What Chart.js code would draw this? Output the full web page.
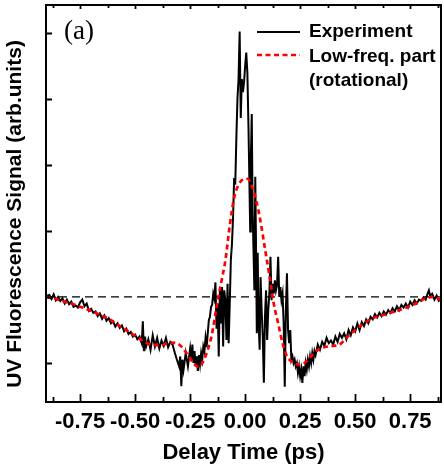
<!DOCTYPE html>
<html>
<head>
<meta charset="utf-8">
<style>
  html, body { margin: 0; padding: 0; background: #ffffff; }
  #wrap { width: 444px; height: 467px; }
</style>
<script src="https://cdn.jsdelivr.net/npm/chart.js@4/dist/chart.umd.min.js"></script>
</head>
<body>
<div id="wrap"><canvas id="c" width="444" height="467"></canvas></div>
<script>
// ---------- data ----------
const expTime = [
  -0.90,-0.89,-0.88,-0.87,-0.86,-0.85,-0.84,-0.83,-0.82,-0.81,
  -0.80,-0.79,-0.78,-0.77,-0.76,-0.75,-0.74,-0.73,-0.72,-0.71,
  -0.70,-0.69,-0.68,-0.67,-0.66,-0.65,-0.64,-0.63,-0.62,-0.61,
  -0.60,-0.59,-0.58,-0.57,-0.56,-0.55,-0.54,-0.53,-0.52,-0.51,
  -0.50,-0.49,-0.48,-0.47,-0.465,-0.46,-0.455,-0.45,-0.44,-0.43,
  -0.42,-0.41,-0.40,-0.39,-0.38,-0.37,-0.36,-0.35,-0.34,-0.33,
  -0.32,-0.31,-0.30,-0.295,-0.29,-0.285,-0.28,-0.27,-0.26,-0.25,
  -0.245,-0.24,-0.235,-0.23,-0.225,-0.22,-0.215,-0.21,-0.205,-0.20,
  -0.195,-0.19,-0.185,-0.18,-0.175,-0.17,-0.165,-0.16,-0.155,-0.15,
  -0.145,-0.14,-0.135,-0.13,-0.125,-0.12,-0.115,-0.11,-0.105,-0.10,
  -0.095,-0.09,-0.085,-0.08,-0.075,-0.07,-0.065,-0.06,-0.055,-0.05,
  -0.045,-0.04,-0.035,-0.03,-0.025,-0.02,-0.015,-0.01,-0.005,0.00,
  0.005,0.01,0.015,0.02,0.023,0.026,0.03,0.034,0.038,0.042,
  0.046,0.05,0.053,0.057,0.061,0.066,0.07,0.075,0.08,0.085,
  0.09,0.095,0.10,0.105,0.11,0.115,0.12,0.125,0.13,0.135,
  0.14,0.145,0.15,0.155,0.16,0.165,0.17,0.175,0.18,0.185,
  0.19,0.195,0.20,0.205,0.21,0.215,0.22,0.225,0.23,0.235,
  0.24,0.245,0.25,0.255,0.26,0.265,0.27,0.275,0.28,0.285,
  0.29,0.295,0.30,0.305,0.31,0.315,0.32,0.33,0.34,0.35,
  0.36,0.37,0.38,0.39,0.40,0.41,0.42,0.43,0.44,0.45,
  0.46,0.47,0.48,0.49,0.50,0.51,0.52,0.53,0.54,0.55,
  0.56,0.57,0.58,0.59,0.60,0.61,0.62,0.63,0.64,0.65,
  0.66,0.67,0.68,0.69,0.70,0.71,0.72,0.73,0.74,0.75,
  0.76,0.77,0.78,0.79,0.80,0.81,0.82,0.83,0.835,0.84,
  0.85,0.86,0.87,0.88,0.89
];
const expSignal = [
  0.02,0.03,-0.03,0.04,-0.05,0.00,-0.06,-0.02,-0.10,-0.04,
  -0.11,-0.07,-0.15,-0.13,-0.16,-0.08,-0.04,-0.14,-0.10,-0.21,
  -0.18,-0.24,-0.22,-0.29,-0.25,-0.33,-0.28,-0.36,-0.32,-0.40,
  -0.37,-0.45,-0.40,-0.47,-0.43,-0.52,-0.48,-0.56,-0.53,-0.60,
  -0.57,-0.64,-0.60,-0.70,-0.37,-0.82,-0.60,-0.75,-0.64,-0.80,
  -0.58,-0.75,-0.62,-0.78,-0.66,-0.74,-0.62,-0.76,-0.68,-0.72,
  -0.84,-0.95,-1.05,-0.90,-1.35,-0.95,-1.10,-0.85,-1.05,-0.78,
  -0.95,-0.72,-1.00,-0.82,-1.05,-0.90,-1.12,-0.88,-1.02,-0.85,
  -0.95,-0.75,-0.82,-0.62,-0.76,-0.55,-0.35,-0.30,-0.15,-0.12,
  0.05,-0.02,0.22,-0.48,-0.10,-0.90,0.10,-0.40,0.15,-0.75,
  0.10,-0.05,-0.65,0.20,-0.70,-0.10,0.56,0.80,1.20,1.80,
  1.70,2.40,3.00,3.30,4.02,2.71,3.30,3.10,3.25,3.50,
  3.70,3.40,2.60,1.60,0.99,2.10,2.77,1.30,0.70,0.10,
  1.82,0.60,-0.55,0.67,-0.40,-0.80,0.30,-0.20,-0.60,-1.30,
  -0.30,0.10,-0.65,-0.20,0.05,0.61,-0.05,0.20,0.05,0.25,
  0.10,0.18,0.61,0.00,0.15,-0.05,0.05,-0.40,-1.36,-0.20,
  0.36,-0.50,-0.70,-0.50,-0.95,-0.90,-1.00,-0.95,-1.05,-1.00,
  -1.15,-1.05,-1.20,-1.10,-1.30,-1.05,-1.20,-1.00,-1.10,-0.95,
  -1.05,-0.90,-1.00,-0.85,-0.95,-0.82,-0.88,-0.72,-0.80,-0.68,
  -0.74,-0.62,-0.70,-0.66,-0.72,-0.60,-0.68,-0.56,-0.62,-0.55,
  -0.64,-0.50,-0.58,-0.46,-0.52,-0.40,-0.50,-0.38,-0.44,-0.34,
  -0.40,-0.30,-0.34,-0.26,-0.31,-0.24,-0.29,-0.22,-0.27,-0.20,
  -0.24,-0.17,-0.22,-0.14,-0.20,-0.12,-0.16,-0.10,-0.16,-0.07,
  -0.12,-0.05,-0.10,-0.04,-0.06,-0.01,-0.04,0.06,0.10,0.02,
  0.05,-0.04,0.02,-0.06,-0.03
];
const fitTime = [
  -0.905,-0.86,-0.82,-0.78,-0.74,-0.70,-0.66,-0.62,-0.58,-0.54,
  -0.50,-0.46,-0.42,-0.38,-0.34,-0.30,-0.26,-0.23,-0.21,-0.19,
  -0.17,-0.15,-0.13,-0.11,-0.09,-0.07,-0.05,-0.03,-0.01,0.01,
  0.03,0.05,0.07,0.09,0.11,0.13,0.15,0.17,0.19,0.21,
  0.23,0.25,0.27,0.29,0.31,0.33,0.36,0.40,0.43,0.46,
  0.50,0.54,0.58,0.62,0.66,0.70,0.74,0.78,0.82,0.86,0.89
];
const fitSignal = [
  0.00,-0.03,-0.07,-0.11,-0.16,-0.21,-0.27,-0.33,-0.42,-0.50,
  -0.59,-0.67,-0.73,-0.73,-0.69,-0.72,-0.88,-1.02,-1.06,-0.97,
  -0.80,-0.55,-0.15,0.20,0.55,1.08,1.50,1.70,1.78,1.79,
  1.68,1.46,1.14,0.73,0.33,-0.10,-0.40,-0.70,-0.90,-0.97,
  -1.01,-1.03,-1.00,-0.93,-0.86,-0.80,-0.76,-0.74,-0.72,-0.62,
  -0.50,-0.40,-0.32,-0.28,-0.24,-0.20,-0.15,-0.09,-0.02,0.00,-0.05
];
const zeroLineTime = [-0.905, 0.89];
const zeroLineSignal = [0, 0];
const xMajorTicks = [-0.75, -0.50, -0.25, 0.00, 0.25, 0.50, 0.75];
const xMinorTicks = [-0.875, -0.625, -0.375, -0.125, 0.125, 0.375, 0.625, 0.875];
const yTicks = [-1, 0, 1, 2, 3, 4];
const seriesNames = ["Experiment", "Low-freq. part", "(rotational)"];
const panelLabel = "(a)";
const xTitle = "Delay Time (ps)";
const yTitle = "UV Fluorescence Signal (arb.units)";

const toPts = (xs, ys) => xs.map((x, i) => ({ x: x, y: ys[i] }));

const SANS = "'Liberation Sans', Arial, Helvetica, sans-serif";

const framePlugin = {
  id: 'frame',
  afterDatasetsDraw(chart) {
    const { ctx, chartArea: a, scales: { x, y } } = chart;
    ctx.save();
    ctx.strokeStyle = '#000';
    ctx.lineWidth = 2;
    ctx.setLineDash([]);
    ctx.strokeRect(a.left, a.top, a.right - a.left, a.bottom - a.top);
    ctx.lineWidth = 1.8;
    ctx.beginPath();
    xMajorTicks.forEach(v => {
      const px = Math.round(x.getPixelForValue(v)) + 0.5;
      ctx.moveTo(px, a.bottom); ctx.lineTo(px, a.bottom - 8);
      ctx.moveTo(px, a.top); ctx.lineTo(px, a.top + 4);
    });
    xMinorTicks.forEach(v => {
      const px = Math.round(x.getPixelForValue(v)) + 0.5;
      ctx.moveTo(px, a.bottom); ctx.lineTo(px, a.bottom - 5);
      ctx.moveTo(px, a.top); ctx.lineTo(px, a.top + 3);
    });
    yTicks.forEach(v => {
      const py = Math.round(y.getPixelForValue(v)) + 0.5;
      ctx.moveTo(a.left, py); ctx.lineTo(a.left + 6, py);
    });
    ctx.stroke();

    // panel label
    ctx.fillStyle = '#000';
    ctx.font = "27px 'Liberation Serif', 'Times New Roman', serif";
    ctx.textBaseline = 'alphabetic';
    ctx.textAlign = 'left';
    ctx.fillText(panelLabel, 64, 39);

    // legend
    ctx.lineWidth = 2.2;
    ctx.strokeStyle = '#000';
    ctx.beginPath(); ctx.moveTo(257, 32); ctx.lineTo(300, 32); ctx.stroke();
    ctx.strokeStyle = '#ff0000';
    ctx.lineWidth = 2.7;
    ctx.setLineDash([5, 3.5]);
    ctx.beginPath(); ctx.moveTo(257, 55); ctx.lineTo(300, 55); ctx.stroke();
    ctx.setLineDash([]);
    ctx.font = "bold 19px " + SANS;
    ctx.fillText(seriesNames[0], 309, 37);
    ctx.fillText(seriesNames[1], 309, 62);
    ctx.fillText(seriesNames[2], 309, 86);

    // y-axis title
    ctx.save();
    ctx.translate(15, 214);
    ctx.rotate(-Math.PI / 2);
    ctx.font = "bold 21px " + SANS;
    ctx.textAlign = 'center';
    ctx.textBaseline = 'middle';
    ctx.fillText(yTitle, 0, 0);
    ctx.restore();
    ctx.restore();
  }
};

new Chart(document.getElementById('c'), {
  type: 'line',
  data: {
    datasets: [
      {
        label: seriesNames[1],
        data: toPts(fitTime, fitSignal),
        borderColor: '#ff0000',
        borderWidth: 2.7,
        borderDash: [5, 3.5],
        pointRadius: 0,
        cubicInterpolationMode: 'monotone',
        fill: false
      },
      {
        label: seriesNames[0],
        data: toPts(expTime, expSignal),
        borderColor: '#000000',
        borderWidth: 2,
        pointRadius: 0,
        tension: 0,
        fill: false
      },
      {
        label: 'zero',
        data: toPts(zeroLineTime, zeroLineSignal),
        borderColor: '#000000',
        borderWidth: 1.3,
        borderDash: [8, 5],
        pointRadius: 0,
        fill: false
      }
    ]
  },
  options: {
    responsive: false,
    animation: false,
    devicePixelRatio: 1,
    layout: { padding: { top: 5, right: 3, left: 0, bottom: 0 } },
    plugins: { legend: { display: false }, tooltip: { enabled: false } },
    scales: {
      x: {
        type: 'linear',
        min: -0.905,
        max: 0.89,
        afterBuildTicks: s => { s.ticks = xMajorTicks.map(v => ({ value: v })); },
        afterFit: s => { s.height = 65; },
        grid: { display: false, drawTicks: false },
        border: { display: false },
        ticks: {
          color: '#000',
          padding: 7,
          maxRotation: 0,
          autoSkip: false,
          font: { family: SANS, size: 22, weight: 'bold' },
          callback: v => Number(v).toFixed(2)
        },
        title: {
          display: true,
          text: xTitle,
          color: '#000',
          font: { family: SANS, size: 22, weight: 'bold' },
          padding: { top: 0, bottom: 1 }
        }
      },
      y: {
        type: 'linear',
        min: -1.59,
        max: 4.42,
        afterFit: s => { s.width = 46; },
        grid: { display: false, drawTicks: false },
        border: { display: false },
        ticks: { display: false },
        title: { display: false }
      }
    }
  },
  plugins: [framePlugin]
});
</script>
</body>
</html>
